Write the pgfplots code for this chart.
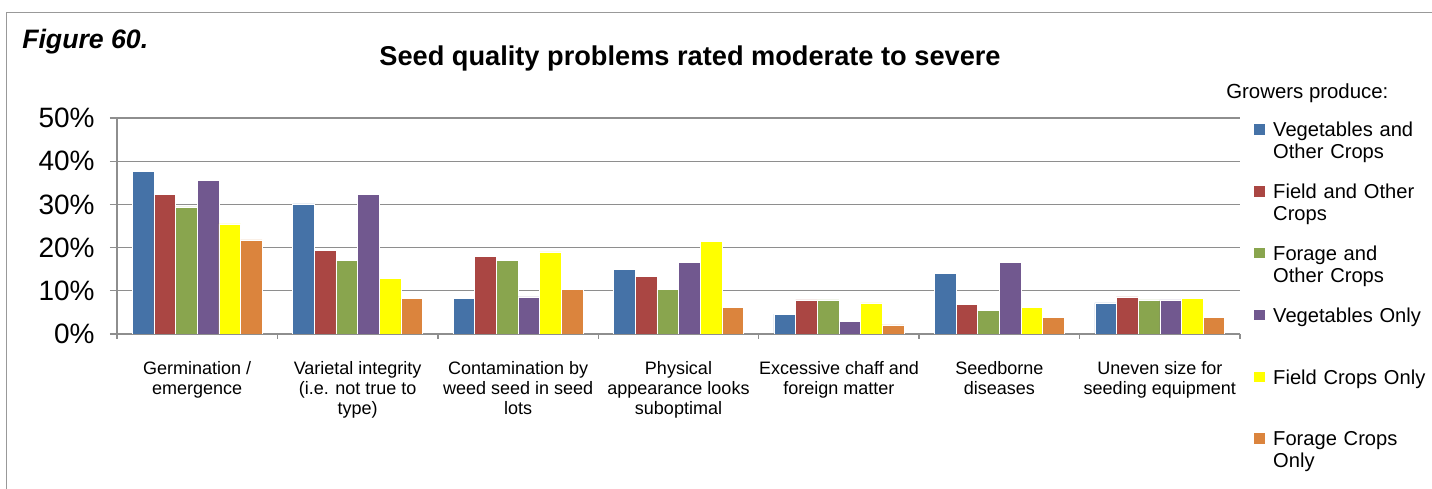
\documentclass[border=0pt]{standalone}
\usepackage{pgfplots}
\pgfplotsset{compat=1.18}
\usepackage{fontspec}
\setmainfont{Liberation Sans}

\definecolor{s1}{HTML}{4572A7}
\definecolor{s2}{HTML}{AA4643}
\definecolor{s3}{HTML}{89A54E}
\definecolor{s4}{HTML}{71588F}
\definecolor{s5}{HTML}{FFFF00}
\definecolor{s6}{HTML}{DB843D}
\definecolor{gridgray}{HTML}{8E8E8E}

\begin{document}
\begin{tikzpicture}
\useasboundingbox (0,0) rectangle (1074pt,366.75pt);
% frame
\draw[black!40, line width=1.1pt] (4.9pt,0pt) -- (4.9pt,357.4pt) -- (1074pt,357.4pt);
\node[font=\bfseries\itshape\fontsize{20}{24}\selectfont, anchor=west, inner sep=0pt] at (16.5pt,335.25pt) {Figure 60.};
\node[font=\bfseries\fontsize{20.4}{24}\selectfont, inner sep=0pt] at (517.5pt,323pt) {Seed quality problems rated moderate to severe};
\node[font=\fontsize{15.3}{16.5}\selectfont, anchor=west, inner sep=0pt] at (919.5pt,297pt) {Growers produce:};

\begin{axis}[
  at={(87.75pt,116.25pt)}, anchor=south west,
  scale only axis, width=842.25pt, height=162pt,
  ybar=0pt, bar width=0.135,
  xmin=-0.5, xmax=6.5, ymin=0, ymax=50,
  axis x line*=bottom, axis y line*=left,
  axis line style={-, gridgray, line width=1pt},
  xtick={0,...,6},
  xticklabels={
    {Germination /\\emergence},
    {Varietal integrity\\(i.e. not true to\\type)},
    {Contamination by\\weed seed in seed\\lots},
    {Physical\\appearance looks\\suboptimal},
    {Excessive chaff and\\foreign matter},
    {Seedborne\\diseases},
    {Uneven size for\\seeding equipment}},
  xticklabel style={align=center, font=\fontsize{13.5}{15}\selectfont, yshift=-12pt},
  minor xtick={-0.5,0.5,...,6.5},
  major x tick style={draw=none},
  minor x tick style={gridgray, line width=1pt},
  minor tick length=3.75pt,
  major tick length=5.25pt,
  tick align=outside,
  ytick={0,10,...,50},
  yticklabels={0\%,10\%,20\%,30\%,40\%,50\%},
  yticklabel style={font=\fontsize{21}{24}\selectfont, xshift=-8pt},
  major y tick style={gridgray, line width=1pt},
  ymajorgrids,
  grid style={gridgray, line width=1pt},
  % the invisible path gives every legend row the same height
  legend image code/.code={\fill[#1, draw=none] (0pt,1.5pt) rectangle (8.25pt,9.5pt); \path (12pt,-33.25pt) (0pt,11pt);},
  legend style={at={(1.0125,0.993)}, anchor=north west, draw=none, fill=none,
    inner sep=0pt, outer sep=0pt, row sep=0pt, column sep=0pt,
    font=\fontsize{15.1}{16.5}\selectfont,
    cells={anchor=base west, text width=4.5cm, align=left, inner sep=0pt}},
]
\addplot[fill=s1, draw=white, line width=0.4pt] coordinates {(0,37.7) (1,30.1) (2,8.3) (3,15.0) (4,4.6) (5,14.0) (6,7.2)};
\addplot[fill=s2, draw=white, line width=0.4pt] coordinates {(0,32.3) (1,19.4) (2,18.0) (3,13.3) (4,7.9) (5,6.9) (6,8.6)};
\addplot[fill=s3, draw=white, line width=0.4pt] coordinates {(0,29.4) (1,17.1) (2,17.1) (3,10.4) (4,7.9) (5,5.4) (6,7.9)};
\addplot[fill=s4, draw=white, line width=0.4pt] coordinates {(0,35.5) (1,32.3) (2,8.6) (3,16.5) (4,2.9) (5,16.5) (6,7.9)};
\addplot[fill=s5, draw=white, line width=0.4pt] coordinates {(0,25.5) (1,12.9) (2,19.0) (3,21.5) (4,7.2) (5,6.1) (6,8.3)};
\addplot[fill=s6, draw=white, line width=0.4pt] coordinates {(0,21.8) (1,8.2) (2,10.4) (3,6.1) (4,2.1) (5,3.9) (6,3.9)};
\addlegendentry{Vegetables and\\Other Crops}
\addlegendentry{Field and Other\\Crops}
\addlegendentry{Forage and\\Other Crops}
\addlegendentry{Vegetables Only}
\addlegendentry{Field Crops Only}
\addlegendentry{Forage Crops\\Only}
\end{axis}
\end{tikzpicture}
\end{document}
